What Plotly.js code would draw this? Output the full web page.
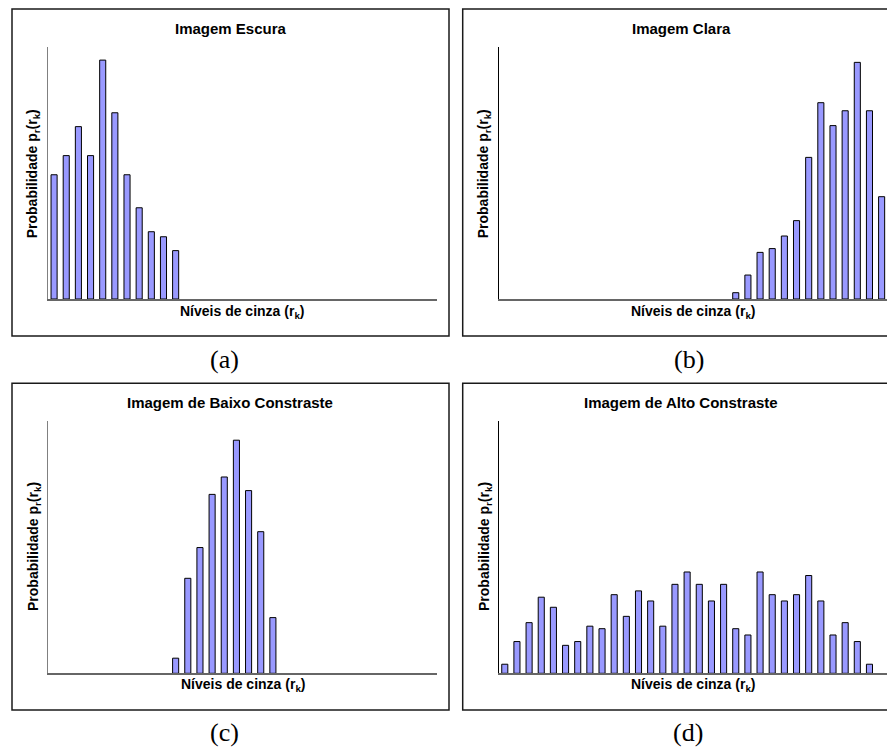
<!DOCTYPE html>
<html>
<head>
<meta charset="utf-8">
<script src="https://cdn.plot.ly/plotly-3.0.1.min.js"></script>
<style>html,body{margin:0;padding:0;background:#fff;}#chart{width:887px;height:748px;}</style>
</head>
<body>
<div id="chart"></div>
<script>
// Gray levels (category index r_k) and relative probabilities
const levelsA = [0,1,2,3,4,5,6,7,8,9,10];
const probA   = [0.493,0.569,0.684,0.569,0.948,0.739,0.493,0.362,0.267,0.247,0.192];

const levelsB = [19,20,21,22,23,24,25,26,27,28,29,30,31];
const probB   = [0.025,0.095,0.185,0.200,0.250,0.311,0.562,0.779,0.688,0.747,0.939,0.747,0.406];

const levelsC = [10,11,12,13,14,15,16,17,18];
const probC   = [0.060,0.377,0.499,0.710,0.779,0.925,0.725,0.562,0.221];

const levelsD = [0,1,2,3,4,5,6,7,8,9,10,11,12,13,14,15,16,17,18,19,20,21,22,23,24,25,26,27,28,29,30];
const probD   = [0.036,0.126,0.201,0.302,0.262,0.111,0.126,0.187,0.177,0.312,0.226,0.327,0.287,0.187,0.353,
                 0.402,0.353,0.287,0.353,0.177,0.152,0.402,0.312,0.287,0.312,0.388,0.287,0.152,0.201,0.126,0.036];

const titles = ['Imagem Escura','Imagem Clara','Imagem de Baixo Constraste','Imagem de Alto Constraste'];
const panelLabels = ['(a)','(b)','(c)','(d)'];
const xTitle = 'Níveis de cinza (r<sub>k</sub>)';
const yTitle = 'Probabilidade p<sub>r</sub>(r<sub>k</sub>)';

const W = 887, H = 748;
const px = v => v / W;
const py = v => 1 - v / H;

const SANS = 'Arial';
const SERIF = 'Times New Roman';

const barColor = '#9999FF';
function barTrace(x, y, xa, ya) {
  return {type:'bar', x:x, y:y, xaxis:xa, yaxis:ya, width:0.5,
          marker:{color:barColor, line:{color:'#000', width:1}}, hoverinfo:'skip', showlegend:false};
}

const data = [
  barTrace(levelsA, probA, 'x', 'y'),
  barTrace(levelsB, probB, 'x2', 'y2'),
  barTrace(levelsC, probC, 'x3', 'y3'),
  barTrace(levelsD, probD, 'x4', 'y4')
];

// panel geometry (pixels)
const panels = [
  {ax0:48,    ax1:437, ay0:47,    ay1:299,   fx0:12,    fx1:449, fy0:9,     fy1:336, tx:231,   ty:28,    xtx:242.7, xty:312, ytx:33.3,  yty:174,   lx:224.5, ly:359, ycol:'#808080'},
  {ax0:498.7, ax1:887, ay0:47,    ay1:299,   fx0:462.7, fx1:900, fy0:9,     fy1:336, tx:681,   ty:28,    xtx:693.3, xty:312, ytx:484.3, yty:174,   lx:688.5, ly:359, ycol:'#000'},
  {ax0:48,    ax1:437, ay0:421.3, ay1:673.3, fx0:12,    fx1:449, fy0:383.3, fy1:710, tx:230,   ty:402.7, xtx:243,   xty:685, ytx:33.3,  yty:546.7, lx:224.5, ly:732, ycol:'#808080'},
  {ax0:498.7, ax1:887, ay0:421.3, ay1:673.3, fx0:462.7, fx1:900, fy0:383.3, fy1:710, tx:680.7, ty:402.7, xtx:693.3, xty:685, ytx:484.3, yty:546.7, lx:688,   ly:732, ycol:'#000'}
];

const layout = {
  width: W, height: H,
  margin:{l:0,r:0,t:0,b:0,pad:0},
  paper_bgcolor:'#fff', plot_bgcolor:'rgba(0,0,0,0)',
  showlegend:false,
  bargap:0,
  annotations:[], shapes:[]
};

const slot = 389 / 32;
panels.forEach((p, i) => {
  const n = i === 0 ? '' : String(i + 1);
  const xr1 = -0.5 + (p.ax1 - p.ax0) / slot;
  layout['xaxis' + n] = {
    domain:[px(p.ax0), px(p.ax1)], range:[-0.5, xr1], anchor:'y' + n,
    showticklabels:false, ticks:'', showgrid:false, zeroline:false,
    showline:true, linecolor:'#666', linewidth:1.5, fixedrange:true
  };
  layout['yaxis' + n] = {
    domain:[py(p.ay1), py(p.ay0)], range:[0, 1], anchor:'x' + n,
    showticklabels:false, ticks:'', showgrid:false, zeroline:false,
    showline:true, linecolor:p.ycol, linewidth:1.2, fixedrange:true
  };
  // frame
  layout.shapes.push({type:'rect', xref:'paper', yref:'paper',
    x0:px(p.fx0), x1:px(p.fx1), y0:py(p.fy1), y1:py(p.fy0),
    line:{color:'#1a1a1a', width:1.5}, fillcolor:'rgba(0,0,0,0)', layer:'above'});
  // title
  layout.annotations.push({text:'<b>' + titles[i] + '</b>', xref:'paper', yref:'paper',
    x:px(p.tx), y:py(p.ty), xanchor:'center', yanchor:'middle', showarrow:false,
    font:{family:SANS, size:15, color:'#000'}});
  // x title
  layout.annotations.push({text:'<b>' + xTitle + '</b>', xref:'paper', yref:'paper',
    x:px(p.xtx), y:py(p.xty), xanchor:'center', yanchor:'middle', showarrow:false,
    font:{family:SANS, size:14, color:'#000'}});
  // y title
  layout.annotations.push({text:'<b>' + yTitle + '</b>', xref:'paper', yref:'paper',
    x:px(p.ytx), y:py(p.yty), xanchor:'center', yanchor:'middle', textangle:-90, showarrow:false,
    font:{family:SANS, size:14, color:'#000'}});
  // panel label
  layout.annotations.push({text:panelLabels[i], xref:'paper', yref:'paper',
    x:px(p.lx), y:py(p.ly), xanchor:'center', yanchor:'middle', showarrow:false,
    font:{family:SERIF, size:26, color:'#000'}});
});

Plotly.newPlot('chart', data, layout, {staticPlot:true, displayModeBar:false});
</script>
</body>
</html>
